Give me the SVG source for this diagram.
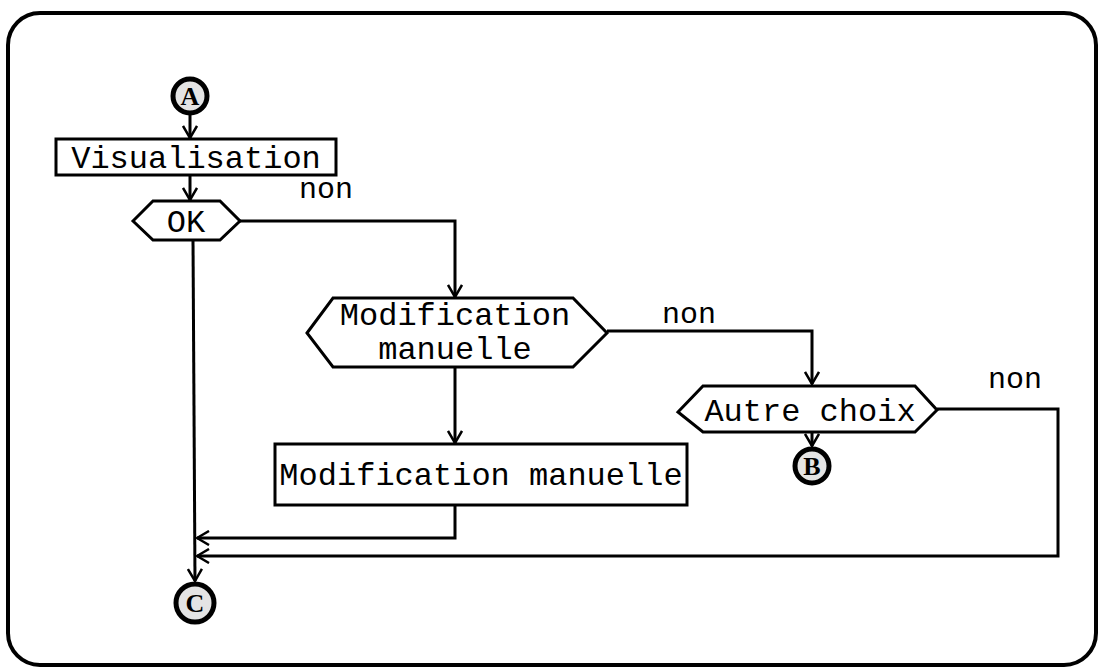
<svg xmlns="http://www.w3.org/2000/svg" width="1101" height="670" viewBox="0 0 1101 670">
<defs>
<style>
.shape{fill:#fff;stroke:#000;stroke-width:3}
.conn{fill:none;stroke:#000;stroke-width:3}
.circ{fill:#e4e4e4;stroke:#000;stroke-width:5}
.t{font-family:"Liberation Mono","Courier New",monospace;font-size:32px;fill:#000}
.lbl{font-family:"Liberation Mono","Courier New",monospace;font-size:30px;fill:#000}
.ct{font-family:"Liberation Serif","Times New Roman",serif;font-size:26px;font-weight:bold;fill:#000;text-anchor:middle}
</style>
<marker id="arr" viewBox="0 0 14 16" refX="13" refY="8" markerWidth="14" markerHeight="16" markerUnits="userSpaceOnUse" orient="auto">
<path d="M1,1 L13,8 L1,15" fill="none" stroke="#000" stroke-width="2.5"/>
</marker>
</defs>
<rect x="8" y="13" width="1088" height="652" rx="32" ry="32" fill="none" stroke="#000" stroke-width="4"/>
<g id="connectors">
<line class="conn" x1="190" y1="115" x2="190" y2="138" marker-end="url(#arr)"/>
<line class="conn" x1="190" y1="175" x2="190" y2="200" marker-end="url(#arr)"/>
<polyline class="conn" points="240,221 455,221 455,297" marker-end="url(#arr)"/>
<polyline class="conn" points="607,331 812,331 812,384" marker-end="url(#arr)"/>
<line class="conn" x1="455" y1="368" x2="455" y2="443" marker-end="url(#arr)"/>
<line class="conn" x1="812" y1="432" x2="812" y2="446" marker-end="url(#arr)"/>
<polyline class="conn" points="455,505 455,538 197,538" marker-end="url(#arr)"/>
<polyline class="conn" points="937,409 1058,409 1058,556 197,556" marker-end="url(#arr)"/>
<line class="conn" x1="193" y1="240" x2="195" y2="581" marker-end="url(#arr)"/>
<text class="lbl" x="299" y="198">non</text>
<text class="lbl" x="662" y="323">non</text>
<text class="lbl" x="988" y="388">non</text>
</g>
<g id="nodeA">
<circle class="circ" cx="190" cy="96" r="17"/>
<text class="ct" x="190" y="105">A</text>
</g>
<g id="visualisation">
<rect class="shape" x="56" y="139" width="280" height="36"/>
<text class="t" x="196" y="168" text-anchor="middle">Visualisation</text>
</g>
<g id="ok">
<polygon class="shape" points="133,221 153,201 220,201 240,221 220,240 153,240"/>
<text class="t" x="186" y="232" text-anchor="middle">OK</text>
</g>
<g id="modifQ">
<polygon class="shape" points="307,333 333,298 573,298 607,333 573,367 333,367"/>
<text class="t" x="455" y="325" text-anchor="middle">Modification</text>
<text class="t" x="455" y="359" text-anchor="middle">manuelle</text>
</g>
<g id="autre">
<polygon class="shape" points="678,412 703,386 915,386 937,410 915,432 703,432"/>
<text class="t" x="810" y="421" text-anchor="middle">Autre choix</text>
</g>
<g id="nodeB">
<circle class="circ" cx="812" cy="466" r="17"/>
<text class="ct" x="812" y="475">B</text>
</g>
<g id="modifBox">
<rect class="shape" x="275" y="444" width="412" height="61"/>
<text class="t" x="481" y="485" text-anchor="middle">Modification manuelle</text>
</g>
<g id="nodeC">
<circle class="circ" cx="195" cy="603" r="19"/>
<text class="ct" x="195" y="612">C</text>
</g>
</svg>
